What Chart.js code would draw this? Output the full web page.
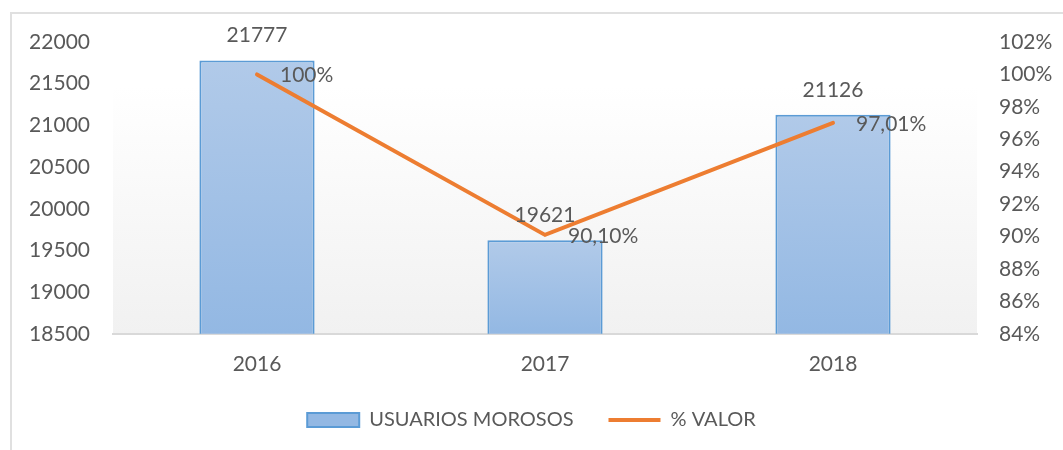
<!DOCTYPE html>
<html>
<head>
<meta charset="utf-8">
<script src="https://cdn.jsdelivr.net/npm/chart.js@4.4.1/dist/chart.umd.min.js"></script>
<style>
  body { margin: 0; background: #fff; overflow: hidden; }
  #frame { position: absolute; left: 10px; top: 12px; width: 1100px; height: 500px; border: 2px solid #e0e0e0; }
  #wrap { position: absolute; left: 0; top: 0; width: 1063px; height: 450px; }
</style>
</head>
<body>
<div id="frame"></div>
<div id="wrap"><canvas id="morososChart"></canvas></div>
<script>
// Usuarios morosos y % valor por año
const years = ['2016', '2017', '2018'];
const usuariosMorosos = [21777, 19621, 21126];
const porcentajeValor = [100, 90.10, 97.01];

const textColor = '#595959';
const fontFamily = 'Lato, "Open Sans", sans-serif';

function formatPct(v) {
    return Number.isInteger(v) ? v + '%' : v.toFixed(2).replace('.', ',') + '%';
}

// bar gradient, light at the top of each bar
function barFill(context) {
    const chart = context.chart;
    const y = chart.scales && chart.scales.y;
    if (!chart.chartArea || !y || context.raw === undefined) return '#a3c2e6';
    const top = y.getPixelForValue(context.raw);
    const g = chart.ctx.createLinearGradient(0, top, 0, y.bottom);
    g.addColorStop(0, '#b1cae9');
    g.addColorStop(1, '#93b8e3');
    return g;
}

const plotBackground = {
    id: 'plotBackground',
    beforeDraw(chart) {
        const { ctx, chartArea: a } = chart;
        const g = ctx.createLinearGradient(0, a.top, 0, a.bottom);
        g.addColorStop(0, '#ffffff');
        g.addColorStop(0.15, '#ffffff');
        g.addColorStop(1, '#f1f1f1');
        ctx.save();
        ctx.fillStyle = g;
        ctx.fillRect(a.left, a.top, a.right - a.left, a.bottom - a.top);
        ctx.restore();
    }
};

const valueLabels = {
    id: 'valueLabels',
    afterDatasetsDraw(chart) {
        const ctx = chart.ctx;
        ctx.save();
        ctx.fillStyle = textColor;
        ctx.font = '21px ' + fontFamily;
        ctx.textBaseline = 'middle';
        chart.getDatasetMeta(0).data.forEach((bar, i) => {
            ctx.textAlign = 'center';
            ctx.fillText(usuariosMorosos[i], bar.x, bar.y - 25);
        });
        chart.getDatasetMeta(1).data.forEach((pt, i) => {
            ctx.textAlign = 'left';
            ctx.fillText(formatPct(porcentajeValor[i]), pt.x + 23, pt.y + 1);
        });
        ctx.restore();
    }
};

const ctx = document.getElementById('morososChart').getContext('2d');
new Chart(ctx, {
    data: {
        labels: years,
        datasets: [{
            type: 'bar',
            label: 'USUARIOS MOROSOS',
            data: usuariosMorosos,
            backgroundColor: barFill,
            borderColor: '#5b9bd5',
            borderWidth: 2,
            categoryPercentage: 1,
            barPercentage: 0.4,
            yAxisID: 'y',
            order: 1
        }, {
            type: 'line',
            label: '% VALOR',
            data: porcentajeValor,
            borderColor: '#ed7d31',
            backgroundColor: '#ed7d31',
            borderWidth: 4,
            borderCapStyle: 'round',
            pointRadius: 0,
            pointStyle: 'line',
            tension: 0,
            yAxisID: 'y1',
            order: 0
        }]
    },
    options: {
        responsive: true,
        maintainAspectRatio: false,
        animation: false,
        layout: {
            padding: { top: 42, left: 0, right: 0, bottom: 10 }
        },
        scales: {
            x: {
                afterFit: (s) => { s.height -= 20; },
                grid: { display: false, drawTicks: false },
                border: { display: true, color: '#d9d9d9', width: 2 },
                ticks: { color: textColor, font: { family: fontFamily, size: 21 }, padding: 18 }
            },
            y: {
                position: 'left',
                min: 18500,
                max: 22000,
                afterFit: (s) => { s.width = 113; },
                grid: { display: false, drawTicks: false },
                border: { display: false },
                ticks: {
                    stepSize: 500,
                    color: textColor,
                    font: { family: fontFamily, size: 21 },
                    padding: 23,
                    callback: (v) => String(v)
                }
            },
            y1: {
                position: 'right',
                min: 84,
                max: 102,
                afterFit: (s) => { s.width = 86; },
                grid: { display: false, drawTicks: false },
                border: { display: false },
                ticks: {
                    stepSize: 2,
                    color: textColor,
                    font: { family: fontFamily, size: 21 },
                    padding: 22,
                    callback: (v) => v + '%'
                }
            }
        },
        plugins: {
            legend: {
                position: 'bottom',
                labels: {
                    color: textColor,
                    font: { family: fontFamily, size: 20 },
                    usePointStyle: true,
                    pointStyleWidth: 52,
                    boxHeight: 14,
                    padding: 35,
                    sort: (a, b) => a.datasetIndex - b.datasetIndex,
                    generateLabels: (chart) => {
                        const items = Chart.defaults.plugins.legend.labels.generateLabels(chart);
                        items.forEach((it) => {
                            if (it.datasetIndex === 0) {
                                it.pointStyle = 'rect';
                                it.lineWidth = 2;
                            } else {
                                it.pointStyle = 'line';
                                it.lineWidth = 4;
                            }
                        });
                        return items;
                    }
                }
            },
            tooltip: { enabled: false }
        }
    },
    plugins: [plotBackground, valueLabels]
});
</script>
</body>
</html>
